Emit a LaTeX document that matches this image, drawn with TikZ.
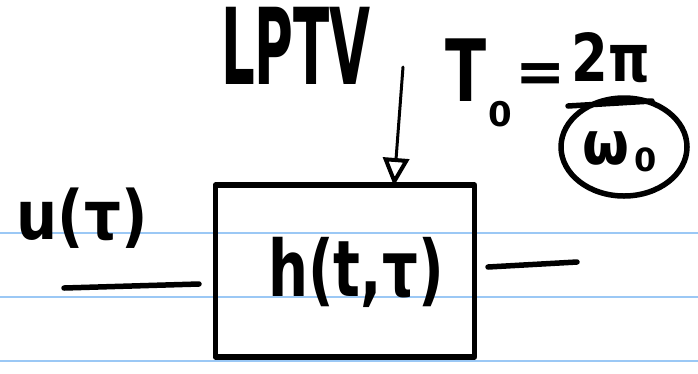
\documentclass[tikz,border=0pt]{standalone}
\usepackage{fontspec}
\setmainfont{DejaVu Sans}
\usetikzlibrary{arrows.meta}
\definecolor{ruleblue}{RGB}{155,200,245}
\begin{document}
\begin{tikzpicture}[x=1pt,y=-1pt,
  ink/.style={line width=5.5pt, line cap=round, line join=round},
  rule/.style={draw=ruleblue, line width=2pt},
  lbl/.style={inner sep=0pt, anchor=center},
  big/.style={font=\bfseries\fontsize{#1}{#1}\selectfont}]
\useasboundingbox (0,0) rectangle (698,373);
\fill[white] (0,0) rectangle (698,373);
\draw[rule] (0,233) -- (698,233);
\draw[rule] (0,297) -- (698,297);
\draw[rule] (0,361) -- (698,361);
% box
\node[draw, ink, minimum width=259pt, minimum height=172pt, inner sep=0pt] (box) at (345,271) {};
\node[lbl, big=78, xscale=0.72] (hlbl) at (356,272) {h(t,τ)};
% labels
\node[lbl, big=106, xscale=0.5] (lptv) at (296,46) {LPTV};
\node[lbl, big=68, xscale=0.85] (ulbl) at (82,218) {u(τ)};
\node[lbl, big=86, xscale=0.7] (T) at (466,70) {T};
\node[lbl, big=34] (Tsub) at (500,114) {0};
\node[lbl, big=60] (eq) at (541,78) {=};
\node[lbl, big=66, xscale=0.8] (twopi) at (611,58) {2π};
\node[lbl, big=60, xscale=0.9] (w) at (606,148) {ω};
\node[lbl, big=32] (wsub) at (646,160) {0};
\coordinate (wc) at (624,147);
\draw[ink] (wc) ellipse (63pt and 49pt);
\coordinate (fb1) at (568,106);
\coordinate (fb2) at (652,101);
\draw[ink] (fb1) -- (fb2);
% connectors
\coordinate (atop) at (403,67);
\coordinate (ahead) at (394,186);
\draw[ink, line width=3pt, -{Triangle[open, length=28pt, width=26pt, line width=4pt]}] (atop) -- (ahead);
\coordinate (inL) at (64,288);
\coordinate (inR) at (199,284);
\draw[ink] (inL) -- (inR);
\coordinate (outL) at (488,267);
\coordinate (outR) at (577,262);
\draw[ink] (outL) -- (outR);
\end{tikzpicture}
\end{document}
